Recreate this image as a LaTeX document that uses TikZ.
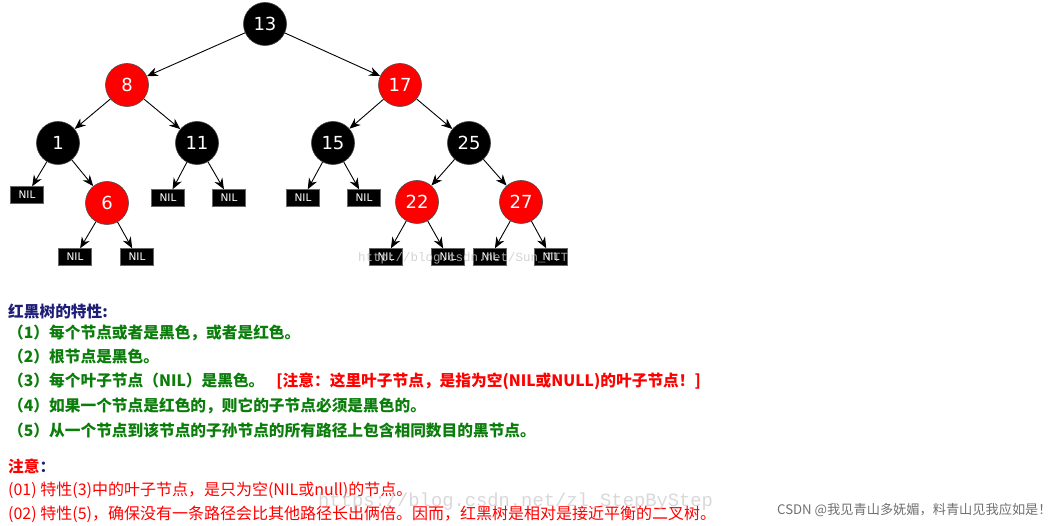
\documentclass[tikz,border=0pt]{standalone}
\usepackage{fontspec}
\setmainfont{DejaVu Sans}
\newfontfamily\cjk{Noto Sans CJK SC}
\newfontfamily\wmfont{Liberation Mono}
\usetikzlibrary{arrows.meta}
\definecolor{rbred}{HTML}{FF0000}
\definecolor{navy}{HTML}{1E1E78}
\definecolor{rbgreen}{HTML}{0B7D0B}
\definecolor{wmgrey}{HTML}{C8C8C8}
\definecolor{footgrey}{HTML}{707070}
\begin{document}
\begin{tikzpicture}[x=1pt,y=-1pt,
  bnode/.style={circle,fill=black,draw=black!75,line width=0.6pt,minimum size=43pt,inner sep=0pt,text=white,font=\fontsize{18}{18}\selectfont},
  rnode/.style={bnode,fill=rbred,draw=black!70},
  nil/.style={rectangle,fill=black,draw=black!60,minimum width=33pt,minimum height=17pt,inner sep=0pt,text=white,font=\fontsize{10.5}{10.5}\selectfont},
  edge/.style={-{Stealth[length=11pt,width=9pt]},line width=0.9pt},
  txt/.style={anchor=base west,inner sep=0pt,font=\cjk\fontsize{16}{16}\selectfont},
  btxt/.style={txt,font=\cjk\bfseries\fontsize{15.7}{15.7}\selectfont}
]
\useasboundingbox (0,0) rectangle (1055,526);
% tree nodes
\node[bnode] (n13) at (265,24) {13};
\node[rnode] (n8) at (127,85) {8};
\node[rnode] (n17) at (400,85) {17};
\node[bnode] (n1) at (58,143) {1};
\node[bnode] (n11) at (197,143) {11};
\node[bnode] (n15) at (333,143) {15};
\node[bnode] (n25) at (469,143) {25};
\node[rnode] (n6) at (107,203) {6};
\node[rnode] (n22) at (417,202) {22};
\node[rnode] (n27) at (521,202) {27};
\node[nil] (l1) at (27,195) {NIL};
\node[nil] (l11a) at (168,198) {NIL};
\node[nil] (l11b) at (229,198) {NIL};
\node[nil] (l15a) at (303,198) {NIL};
\node[nil] (l15b) at (364,198) {NIL};
\node[nil] (l6a) at (75,257) {NIL};
\node[nil] (l6b) at (137,257) {NIL};
\node[nil] (l22a) at (386,257) {NIL};
\node[nil] (l22b) at (448,257) {NIL};
\node[nil] (l27a) at (490,257) {NIL};
\node[nil] (l27b) at (551,257) {NIL};
% edges
\draw[edge] (n13) -- (n8);
\draw[edge] (n13) -- (n17);
\draw[edge] (n8) -- (n1);
\draw[edge] (n8) -- (n11);
\draw[edge] (n17) -- (n15);
\draw[edge] (n17) -- (n25);
\draw[edge] (n1) -- (l1);
\draw[edge] (n1) -- (n6);
\draw[edge] (n11) -- (l11a);
\draw[edge] (n11) -- (l11b);
\draw[edge] (n15) -- (l15a);
\draw[edge] (n15) -- (l15b);
\draw[edge] (n25) -- (n22);
\draw[edge] (n25) -- (n27);
\draw[edge] (n6) -- (l6a);
\draw[edge] (n6) -- (l6b);
\draw[edge] (n22) -- (l22a);
\draw[edge] (n22) -- (l22b);
\draw[edge] (n27) -- (l27a);
\draw[edge] (n27) -- (l27b);
% watermark over tree
\node[anchor=base west,inner sep=0pt,text=wmgrey,opacity=0.8,font=\wmfont\fontsize{12.5}{12.5}\selectfont] (wm1) at (358,262) {http://blog.csdn.net/Sun\_TTT};
% properties text
\node[btxt,text=navy] (title) at (8,318) {红黑树的特性:};
\node[btxt,text=rbgreen] (p1) at (8,339) {（1）每个节点或者是黑色，或者是红色。};
\node[btxt,text=rbgreen] (p2) at (8,363) {（2）根节点是黑色。};
\node[btxt,text=rbgreen] (p3) at (8,387) {（3）每个叶子节点（NIL）是黑色。\hspace{12pt}\textcolor{rbred}{[注意：这里叶子节点，是指为空(NIL或NULL)的叶子节点！]}};
\node[btxt,text=rbgreen] (p4) at (8,412) {（4）如果一个节点是红色的，则它的子节点必须是黑色的。};
\node[btxt,text=rbgreen] (p5) at (8,436) {（5）从一个节点到该节点的子孙节点的所有路径上包含相同数目的黑节点。};
\node[btxt,text=rbred] (note) at (8,472) {注意\textcolor{navy}{：}};
\node[txt,text=rbred] (n01) at (8,495) {(01) 特性(3)中的叶子节点，是只为空(NIL或null)的节点。};
\node[txt,text=rbred] (n02) at (8,519) {(02) 特性(5)，确保没有一条路径会比其他路径长出俩倍。因而，红黑树是相对是接近平衡的二叉树。};
% watermark bottom
\node[anchor=base west,inner sep=0pt,text=wmgrey,opacity=0.7,font=\wmfont\fontsize{18.8}{18.8}\selectfont] (wm2) at (318,506) {https://blog.csdn.net/zl\_StepByStep};
% footer
\node[anchor=base west,inner sep=0pt,text=footgrey,font=\cjk\fontsize{13.2}{13.2}\selectfont] (foot) at (777,514) {CSDN @我见青山多妩媚，料青山见我应如是！};
\end{tikzpicture}
\end{document}
